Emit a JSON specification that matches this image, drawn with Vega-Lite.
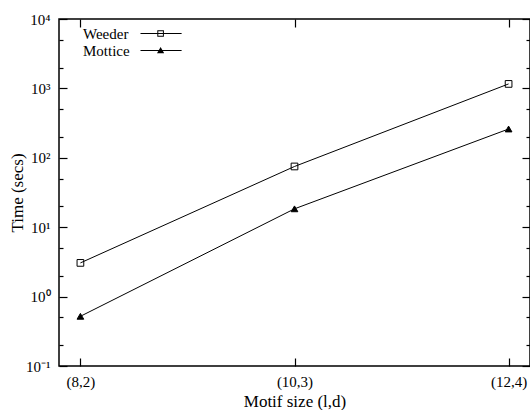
{
  "$schema": "https://vega.github.io/schema/vega-lite/v6.json",
  "width": 471,
  "height": 347,
  "autosize": {"type": "none"},
  "padding": {"left": 59, "top": 19, "right": 0, "bottom": 44},
  "background": "white",
  "config": {
    "view": {"stroke": "black", "strokeWidth": 1.5},
    "font": "Liberation Serif",
    "axis": {
      "labelFont": "Liberation Serif",
      "titleFont": "Liberation Serif",
      "labelColor": "black",
      "titleColor": "black",
      "titleFontWeight": "normal",
      "domain": false,
      "grid": false,
      "tickColor": "black",
      "tickWidth": 1.2,
      "labelFontSize": 15,
      "titleFontSize": 17
    },
    "legend": {
      "labelFont": "Liberation Serif",
      "labelFontSize": 15,
      "labelColor": "black"
    }
  },
  "data": {
    "values": [
      {"series": "Weeder", "size": "(8,2)", "time": 3.06},
      {"series": "Weeder", "size": "(10,3)", "time": 75},
      {"series": "Weeder", "size": "(12,4)", "time": 1160},
      {"series": "Mottice", "size": "(8,2)", "time": 0.52},
      {"series": "Mottice", "size": "(10,3)", "time": 18.4},
      {"series": "Mottice", "size": "(12,4)", "time": 260}
    ]
  },
  "layer": [
    {
      "mark": {"type": "line", "color": "black", "strokeWidth": 1},
      "encoding": {
        "x": {
          "field": "size",
          "type": "ordinal",
          "scale": {"type": "point", "padding": 0.1, "domain": ["(8,2)", "(10,3)", "(12,4)"]},
          "axis": {
            "title": "Motif size (l,d)",
            "labelAngle": 0,
            "tickSize": -8,
            "labelPadding": 16,
            "titleY": 35,
            "titleBaseline": "middle"
          }
        },
        "y": {
          "field": "time",
          "type": "quantitative",
          "scale": {"type": "log", "domain": [0.1, 10000], "nice": false},
          "axis": {
            "title": "Time (secs)",
            "values": [0.1, 1, 10, 100, 1000, 10000],
            "labelExpr": "'10' + ['⁻¹','⁰','¹','²','³','⁴'][round(log(datum.value)/LN10)+1]",
            "tickSize": -8,
            "labelPadding": 17,
            "titleX": -42,
            "titleBaseline": "middle"
          }
        },
        "detail": {"field": "series"}
      }
    },
    {
      "mark": {"type": "point", "filled": true, "opacity": 1, "strokeWidth": 1, "size": 45},
      "encoding": {
        "x": {
          "field": "size",
          "type": "ordinal",
          "scale": {"type": "point", "padding": 0.1, "domain": ["(8,2)", "(10,3)", "(12,4)"]},
          "axis": {"orient": "top", "labels": false, "title": null, "tickSize": -8}
        },
        "y": {
          "field": "time",
          "type": "quantitative",
          "scale": {"type": "log", "domain": [0.1, 10000], "nice": false},
          "axis": {"orient": "right", "labels": false, "title": null, "values": [0.1, 1, 10, 100, 1000, 10000], "tickSize": -8}
        },
        "shape": {
          "field": "series",
          "type": "nominal",
          "scale": {"domain": ["Weeder", "Mottice"], "range": ["square", "triangle-up"]},
          "legend": null
        },
        "fill": {
          "field": "series",
          "type": "nominal",
          "scale": {"domain": ["Weeder", "Mottice"], "range": ["transparent", "black"]},
          "legend": null
        },
        "stroke": {"value": "black"}
      }
    },
    {
      "mark": {"type": "point", "filled": true, "opacity": 0, "strokeWidth": 0},
      "encoding": {
        "x": {
          "field": "size",
          "type": "ordinal",
          "scale": {"type": "point", "padding": 0.1, "domain": ["(8,2)", "(10,3)", "(12,4)"]},
          "axis": null
        },
        "y": {
          "field": "time",
          "type": "quantitative",
          "scale": {"type": "log", "domain": [0.1, 10000], "nice": false},
          "axis": {"orient": "left", "labels": false, "title": null, "values": [0.2, 0.5, 2, 5, 20, 50, 200, 500, 2000, 5000], "tickSize": -4}
        },
        "shape": {
          "field": "series",
          "type": "nominal",
          "scale": {"domain": ["Weeder", "Mottice"], "range": ["M26,-0.17H39.7V0.17H26ZM26,-0.17H39.7V0.17H26ZM31.6,-1.1H33.8V1.1H31.6ZM31.93,-0.77V0.77H33.47V-0.77Z", "M26,-0.17H39.7V0.17H26ZM32.7,-1.2L33.9,0.9H31.5Z"]},
          "legend": {
            "title": null,
            "orient": "none",
            "legendX": -4,
            "legendY": 7,
            "padding": 0,
            "symbolSize": 36,
            "symbolOpacity": 1,
            "symbolStrokeWidth": 0,
            "symbolFillColor": "black",
            "labelOffset": 13,
            "rowPadding": 1
          }
        },
        "fill": {
          "field": "series",
          "type": "nominal",
          "scale": {"domain": ["Weeder", "Mottice"], "range": ["transparent", "black"]},
          "legend": null
        },
        "stroke": {"value": "black"}
      }
    },
    {
      "mark": {"type": "point", "opacity": 0},
      "encoding": {
        "x": {
          "field": "size",
          "type": "ordinal",
          "scale": {"type": "point", "padding": 0.1, "domain": ["(8,2)", "(10,3)", "(12,4)"]},
          "axis": null
        },
        "y": {
          "field": "time",
          "type": "quantitative",
          "scale": {"type": "log", "domain": [0.1, 10000], "nice": false},
          "axis": {"orient": "right", "labels": false, "title": null, "values": [0.2, 0.5, 2, 5, 20, 50, 200, 500, 2000, 5000], "tickSize": -4}
        }
      }
    }
  ],
  "resolve": {"axis": {"x": "independent", "y": "independent"}, "scale": {"shape": "independent"}, "legend": {"shape": "independent"}}
}
